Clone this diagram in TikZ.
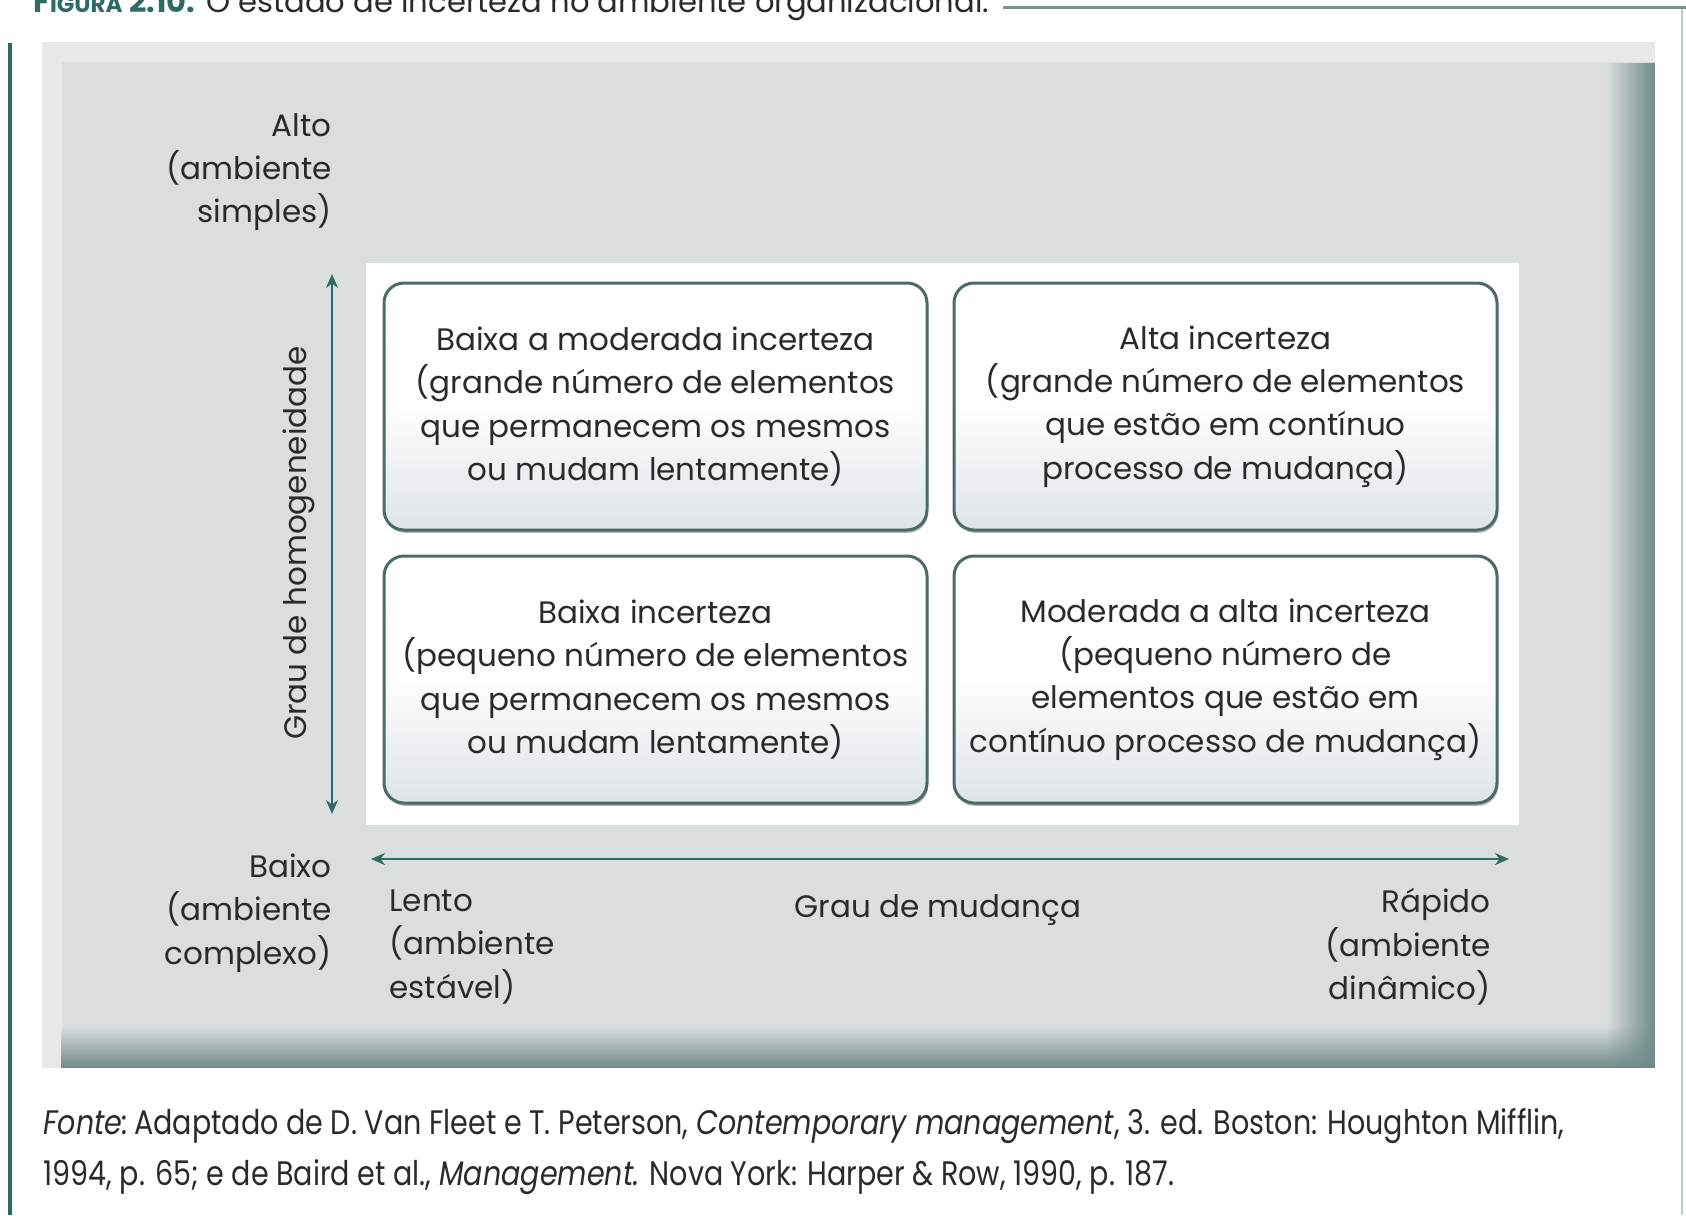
\documentclass[tikz,border=0pt]{standalone}
\usepackage{fontspec}
\setmainfont{Poppins}
\newfontfamily\notefont[FakeStretch=0.84]{Poppins}
\usetikzlibrary{arrows.meta,shadows,fadings}

\definecolor{tealdk}{HTML}{2E6B63}
\definecolor{ink}{HTML}{2A2A2A}
\definecolor{panel}{HTML}{DADFDE}
\definecolor{panelhi}{HTML}{E6E9E8}
\definecolor{bevel}{HTML}{6F8B88}
\definecolor{boxline}{HTML}{4B6B68}
\definecolor{boxlow}{HTML}{DEE4E4}
\definecolor{rulegray}{HTML}{858E8C}
\definecolor{edgeline}{HTML}{BCCDCA}

\tikzset{
  quad/.style={draw=boxline, line width=1.5pt, rounded corners=10pt,
    top color=white, bottom color=boxlow, middle color=white!96!boxlow,
    minimum width=271.5pt, minimum height=123.5pt, align=center,
    font=\fontsize{15.5}{21.7}\selectfont, text=ink,
    drop shadow={shadow xshift=0.6pt, shadow yshift=-1.4pt, opacity=0.4, fill=black!75}},
  axisline/.style={draw=tealdk, line width=1.2pt,
    {Stealth[length=7pt,width=6pt]}-{Stealth[length=7pt,width=6pt]}},
  lbl/.style={font=\fontsize{15.5}{21.7}\selectfont, text=ink, inner sep=0pt},
  note/.style={font=\notefont\fontsize{17}{25}\selectfont, text=ink, inner sep=0pt, anchor=west},
}

\begin{document}
\begin{tikzpicture}[x=0.5pt,y=-0.5pt]
\useasboundingbox (0,0) rectangle (1686,1215);
\clip (0,0) rectangle (1686,1215);
\fill[white] (0,0) rectangle (1686,1215);

% caption line and page rules
\node[anchor=base west, inner sep=0pt, text=ink, font=\fontsize{15.3}{17}\selectfont] (title) at (33,12)
  {{\color{tealdk}\bfseries F{\fontsize{11.5}{13}\selectfont IGURA} 2.10:} O estado de incerteza no ambiente organizacional.};
\coordinate (ruleA) at (1003,7);
\coordinate (ruleB) at (1686,7);
\draw[rulegray, line width=1.5pt] (ruleA) -- (ruleB);
\coordinate (edgeA) at (1682,9);
\coordinate (edgeB) at (1682,1215);
\draw[edgeline, line width=1pt] (edgeA) -- (edgeB);
\coordinate (barA) at (10,43);
\coordinate (barB) at (10,1215);
\draw[tealdk, line width=1.6pt] (barA) -- (barB);

% bevelled grey panel, darker towards its right and bottom edges
\fill[panelhi] (42,42) rectangle (1655,1068);
\fill[panel] (62,62) rectangle (1655,1068);
\fill[bevel, path fading=north] (62,1026) rectangle (1655,1068);
\fill[bevel, path fading=west] (1606,62) rectangle (1655,1068);

% white field behind the quadrants
\fill[white] (366,263) rectangle (1519,825);

% quadrants
\node[quad] (q1) at (655.5,406.5) {Baixa a moderada incerteza\\(grande número de elementos\\que permanecem os mesmos\\ou mudam lentamente)};
\node[quad] (q2) at (1225.5,406.5) {Alta incerteza\\(grande número de elementos\\que estão em contínuo\\processo de mudança)};
\node[quad] (q3) at (655.5,679.5) {Baixa incerteza\\(pequeno número de elementos\\que permanecem os mesmos\\ou mudam lentamente)};
\node[quad] (q4) at (1225.5,679.5) {Moderada a alta incerteza\\(pequeno número de\\elementos que estão em\\contínuo processo de mudança)};

% axes
\coordinate (vtop) at (332,274);
\coordinate (vbot) at (332,814);
\draw[axisline] (vbot) -- (vtop);
\coordinate (hleft) at (371,859);
\coordinate (hright) at (1509,859);
\draw[axisline] (hleft) -- (hright);

% axis labels
\node[lbl, rotate=90] (ylab) at (299,543) {Grau de homogeneidade};
\node[lbl, anchor=east, align=right] (high) at (332,172) {Alto\\(ambiente\\simples)};
\node[lbl, anchor=east, align=right] (low) at (332,913) {Baixo\\(ambiente\\complexo)};
\node[lbl, anchor=west, align=left] (slow) at (389,947) {Lento\\(ambiente\\estável)};
\node[lbl, anchor=east, align=right] (fast) at (1491,947) {Rápido\\(ambiente\\dinâmico)};
\node[lbl] (xlab) at (938,910) {Grau de mudança};

% source note
\node[note] (src1) at (43,1126) {\textit{Fonte:}\,Adaptado de D. Van Fleet e T. Peterson, \textit{Contemporary management}, 3. ed. Boston: Houghton Mifflin,};
\node[note] (src2) at (43,1177) {1994, p. 65; e de Baird et al., \textit{Management.} Nova York: Harper \& Row, 1990, p. 187.};
\end{tikzpicture}
\end{document}
